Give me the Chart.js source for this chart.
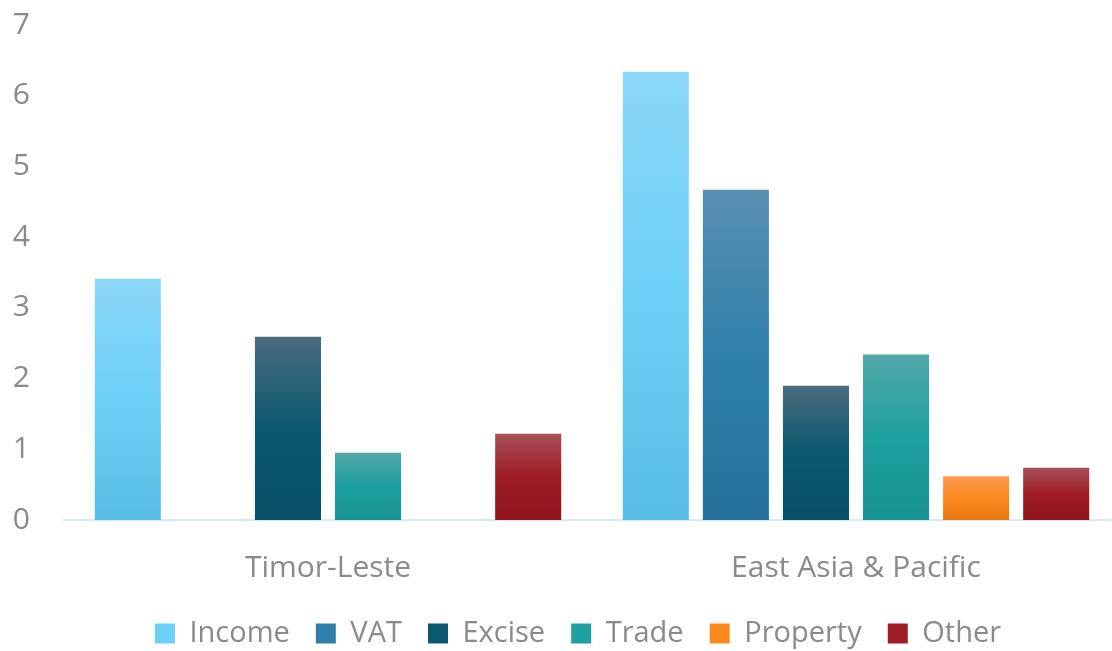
<!DOCTYPE html>
<html><head><meta charset="utf-8">
<script src="https://cdn.jsdelivr.net/npm/chart.js@4/dist/chart.umd.min.js"></script>
<style>html,body{margin:0;padding:0;background:#fff;overflow:hidden;width:1112px;height:651px}#wrap{width:1120px;height:651px}</style>
</head><body><div id="wrap"><canvas id="c" width="1120" height="651"></canvas></div>
<script>
const categories = ["Timor-Leste", "East Asia & Pacific"];
const seriesNames = ["Income", "VAT", "Excise", "Trade", "Property", "Other"];
const income = [3.41, 6.34];
const vat = [0, 4.67];
const excise = [2.59, 1.90];
const trade = [0.95, 2.34];
const property = [0, 0.62];
const other = [1.22, 0.74];
const yTicks = [0, 1, 2, 3, 4, 5, 6, 7];

const palette = [
  ["#8AD6F7", "#6DD0F9", "#58BDE6"],
  ["#5A8FB2", "#2E80AB", "#23719A"],
  ["#4A6B7E", "#0B5870", "#064E66"],
  ["#52A8A8", "#1E9FA0", "#169290"],
  ["#FB9B50", "#FA8A1E", "#EA7A10"],
  ["#A65058", "#9E1C24", "#8F141D"]
];
const seriesData = [income, vat, excise, trade, property, other];

function grad(stops) {
  return (ctx) => {
    const chart = ctx.chart;
    if (!chart.chartArea || ctx.type !== 'data' || !chart.scales.y) return stops[1];
    const y = chart.scales.y;
    const top = y.getPixelForValue(ctx.raw);
    const base = y.getPixelForValue(0);
    if (!isFinite(top) || Math.abs(top - base) < 1) return stops[1];
    const g = chart.ctx.createLinearGradient(0, top, 0, base);
    g.addColorStop(0, stops[0]);
    g.addColorStop(0.5, stops[1]);
    g.addColorStop(1, stops[2]);
    return g;
  };
}

const FONT = "'Open Sans', 'Noto Sans', sans-serif";
const GRAY = "#8a8a8a";

const legendShift = {
  id: 'legendShift',
  afterLayout(chart) {
    const lg = chart.legend;
    if (lg) { lg.left += 18; lg.right += 18; }
  }
};

new Chart(document.getElementById('c'), {
  type: 'bar',
  data: {
    labels: categories,
    datasets: seriesNames.map((n, i) => ({
      label: n,
      data: seriesData[i],
      backgroundColor: grad(palette[i]),
      borderWidth: 0,
      barPercentage: 0.825,
      categoryPercentage: 0.91
    }))
  },
  plugins: [legendShift],
  options: {
    responsive: false,
    animation: false,
    layout: { padding: { top: 25, left: 0, right: 0, bottom: -7 } },
    plugins: {
      tooltip: { enabled: false },
      legend: {
        position: 'bottom',
        labels: {
          font: { family: FONT, size: 29 },
          color: GRAY,
          boxWidth: 20,
          boxHeight: 20,
          padding: 11,
          generateLabels: (chart) => chart.data.datasets.map((d, i, arr) => ({
            text: i < arr.length - 1 ? d.label + '  ' : d.label,
            fillStyle: palette[i][1],
            strokeStyle: palette[i][1],
            lineWidth: 0,
            datasetIndex: i,
            fontColor: GRAY
          }))
        }
      }
    },
    scales: {
      x: {
        grid: { display: false },
        border: { display: true, color: '#D5EDF8', width: 2 },
        ticks: { font: { family: FONT, size: 30 }, color: GRAY, padding: 22 },
        afterFit: (s) => { s.paddingLeft = 0; s.paddingRight = 0; }
      },
      y: {
        min: 0, max: 7,
        afterBuildTicks: (s) => { s.ticks = yTicks.map(v => ({ value: v })); },
        grid: { display: false },
        border: { display: false },
        ticks: { font: { family: FONT, size: 30 }, color: GRAY, padding: 26 },
        afterFit: (s) => { s.width = 64; s.paddingTop = 0; s.paddingBottom = 0; }
      }
    }
  }
});
</script></body></html>
